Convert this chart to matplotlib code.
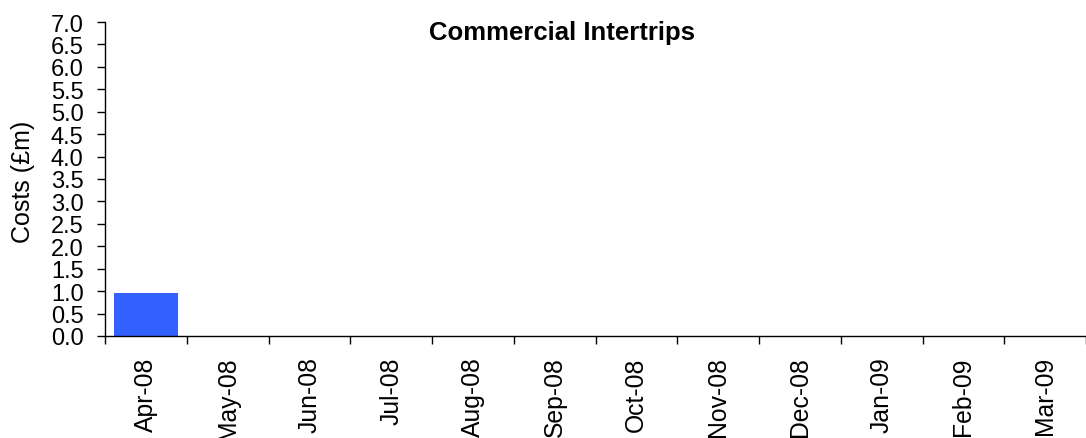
import matplotlib
matplotlib.use("Agg")
import matplotlib.pyplot as plt
import numpy as np

months = ["Apr-08", "May-08", "Jun-08", "Jul-08", "Aug-08", "Sep-08",
          "Oct-08", "Nov-08", "Dec-08", "Jan-09", "Feb-09", "Mar-09"]
costs = [0.96, 0, 0, 0, 0, 0, 0, 0, 0, 0, 0, 0]
yticks = np.arange(0, 7.01, 0.5)

plt.rcParams['font.family'] = ['Liberation Sans', 'DejaVu Sans']

fig = plt.figure(figsize=(10.86, 4.39), dpi=100)
ax = fig.add_axes([105/1086, 1 - 337/439, 1 - 105/1086, (337 - 23)/439])

x = np.arange(len(months))
ax.bar(x, costs, width=0.78, color="#3361FF")
ax.set_xlim(-0.5, len(months) - 0.5)
ax.set_ylim(0, 7.0)
ax.set_yticks(yticks)
ax.set_yticklabels([f"{v:.1f}" for v in yticks], fontsize=17)
ax.set_xticks(x)
ax.set_xticklabels(months, rotation=90, fontsize=17.8)
ax.tick_params(axis='x', length=0, pad=14.5)
ax.set_xticks(np.arange(-0.5, len(months), 1), minor=True)
ax.tick_params(axis='x', which='minor', length=6, width=1, direction='out')
ax.tick_params(axis='y', length=6, width=1, direction='out', pad=9.4)

for s in ['top', 'right']:
    ax.spines[s].set_visible(False)
for s in ['left', 'bottom']:
    ax.spines[s].set_linewidth(1)

fig.text(23/1086, 1 - 182/439, "Costs (£m)", rotation=90, fontsize=18,
         ha='center', va='center')
fig.text(562/1086, 1 - 33/439, "Commercial Intertrips", fontsize=18.5,
         fontweight='bold', ha='center', va='center')

fig.savefig("out.png", dpi=100)
